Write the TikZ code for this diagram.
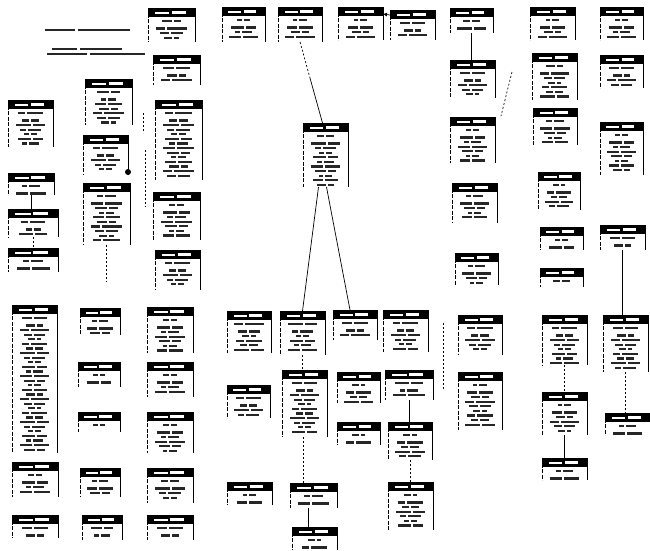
\documentclass[tikz,border=0pt]{standalone}
\usetikzlibrary{calc,arrows.meta}
\tikzset{
  tblbody/.style={draw=none, inner sep=0pt, outer sep=0pt},
  conn/.style={line width=0.7pt},
  dconn/.style={line width=0.7pt, dash pattern=on 2pt off 2pt},
  txtbar/.style={fill=black!85},
}
\newcommand\tbl[5]{%
 \node[tblbody, minimum width=#4pt, minimum height=#5pt, anchor=north west] (#1) at (#2,#3) {};
 \fill[black] (#2,#3) rectangle ++(#4,8.5);
 \pgfmathsetmacro\hw{#4*0.3}
 \fill[white] ({#2+#4*0.15},{#3+3.5}) rectangle ++(\hw,2.4);
 \fill[white] ({#2+#4*0.5},{#3+3}) rectangle ++(\hw,2.6);
 \draw[line width=0.6pt, dash pattern=on 4pt off 1.5pt] (#2,#3) -- ++(0,#5);
 \draw[line width=0.8pt] ({#2+#4},#3) -- ++(0,#5);
 \pgfmathtruncatemacro\nr{max(1,floor((#5-17)/4.6)+1)}
 \foreach \i in {1,...,\nr}{%
   \pgfmathsetmacro\bw{#4*(0.3+0.09*mod(\i*3+#3,5))}
   \pgfmathsetmacro\bx{#2+(#4-\bw)/2}
   \pgfmathsetmacro\by{#3+11.8+(\i>1)*3+(\i-1)*4.6}
   \pgfmathsetmacro\wa{\bw*(0.3+0.1*mod(\i+#2,3))}
   \pgfmathsetmacro\wb{\bw-\wa-2}
   \fill[txtbar] (\bx,\by) rectangle ++(\wa,2.1);
   \fill[txtbar] ({\bx+\wa+2},\by) rectangle ++(\wb,2.1);
 }
}
\begin{document}
\begin{tikzpicture}[x=1pt,y=-1pt]
\fill[white] (0,0) rectangle (650,550);
\useasboundingbox (0,0) rectangle (650,550);
% notes
\fill[txtbar] (45,29) rectangle ++(30,2); \fill[txtbar] (78,29) rectangle ++(52,2);
\fill[txtbar] (52,47.5) rectangle ++(25,2); \fill[txtbar] (80,47.5) rectangle ++(42,2);
\fill[txtbar] (47,52.5) rectangle ++(40,2); \fill[txtbar] (90,52.5) rectangle ++(55,2);
% column A
\tbl{a1}{8}{100}{45}{47}
\tbl{a2}{8}{173}{46}{22}
\tbl{a3}{8}{209}{50}{28}
\tbl{a4}{8}{248}{50}{24}
% column B
\tbl{b1}{85}{79}{47}{46}
\tbl{b2}{83}{135}{45}{40}
\tbl{b3}{83}{183}{47}{62}
% column C
\tbl{c1}{148}{8}{47}{34}
\tbl{c2}{153}{55}{47}{30}
\tbl{c3}{155}{100}{47}{80}
\tbl{c4}{153}{192}{47}{48}
\tbl{c5}{155}{250}{45}{40}
% top middle
\tbl{d1}{222}{7}{43}{35}
\tbl{d2}{278}{7}{44}{35}
\tbl{d3}{338}{7}{45}{33}
\tbl{d4}{390}{10}{45}{30}
\tbl{m}{303}{123}{45}{64}
% bottom middle
\tbl{e1}{227}{311}{44}{42}
\tbl{e2}{280}{311}{45}{44}
\tbl{e3}{333}{310}{44}{30}
\tbl{e4}{383}{310}{45}{42}
\tbl{e5}{227}{385}{43}{33}
\tbl{e6}{282}{370}{45}{67}
\tbl{e7}{337}{372}{43}{31}
\tbl{e8}{385}{370}{48}{30}
\tbl{e9}{337}{422}{43}{23}
\tbl{e10}{388}{422}{44}{38}
\tbl{e11}{227}{482}{45}{23}
\tbl{e12}{290}{483}{47}{25}
\tbl{e13}{292}{527}{45}{23}
\tbl{e14}{388}{482}{45}{48}
% bottom left
\tbl{f1}{12}{305}{45}{148}
\tbl{f2}{80}{308}{40}{27}
\tbl{f3}{147}{307}{46}{46}
\tbl{f4}{78}{362}{42}{25}
\tbl{f5}{147}{362}{46}{35}
\tbl{f6}{78}{412}{42}{20}
\tbl{f7}{147}{412}{46}{41}
\tbl{f8}{12}{462}{46}{35}
\tbl{f9}{80}{468}{40}{29}
\tbl{f10}{147}{468}{46}{35}
\tbl{f11}{12}{515}{46}{23}
\tbl{f12}{82}{515}{40}{25}
\tbl{f13}{147}{515}{46}{25}
% right
\tbl{g1}{450}{8}{43}{25}
\tbl{g2}{450}{60}{45}{38}
\tbl{g3}{450}{117}{45}{46}
\tbl{g4}{452}{183}{45}{40}
\tbl{g5}{455}{253}{43}{32}
\tbl{g6}{458}{315}{44}{40}
\tbl{g7}{458}{372}{44}{58}
\tbl{h1}{530}{7}{45}{33}
\tbl{h2}{600}{7}{43}{33}
\tbl{h3}{532}{53}{45}{47}
\tbl{h4}{600}{55}{43}{33}
\tbl{h5}{533}{108}{44}{37}
\tbl{h6}{600}{122}{43}{53}
\tbl{h7}{538}{172}{42}{38}
\tbl{h8}{540}{227}{43}{23}
\tbl{h9}{600}{225}{45}{25}
\tbl{h10}{540}{268}{43}{19}
\tbl{h11}{542}{315}{45}{50}
\tbl{h12}{603}{315}{45}{57}
\tbl{h13}{542}{392}{45}{43}
\tbl{h14}{605}{413}{45}{22}
\tbl{h15}{542}{458}{45}{22}
% black dot
\fill (128,172) circle (3);
% connectors
\draw[conn] (a2.south) -- (a2.south |- a3.north);
\draw[dconn] (a3.south) -- (a3.south |- a4.north);
\draw[conn] (g1.south) -- (g1.south |- g2.north);
\path ($(d2.south)!0.45!([xshift=-3pt]m.north)$) coordinate (dm);
\draw[dconn] (d2.south) -- (dm);
\draw[conn] (dm) -- ([xshift=-3pt]m.north);
\draw[conn,-{Latex[length=4pt,width=4pt]}] ([yshift=-5pt]d4.north west) -- ([yshift=-7pt]d3.north east);
\draw[conn] ([xshift=-7pt]m.south) -- (e2.north);
\draw[conn] ([xshift=1pt]m.south) -- ([xshift=-5pt]e3.north);
\draw[dconn] (e2.south) -- (e2.south |- e6.north);
\draw[dconn] ([xshift=-1pt]e6.south) -- ([xshift=-1pt]e6.south |- e12.north);
\draw[conn] ([xshift=-5pt]e12.south) -- ([xshift=-5pt]e12.south |- e13.north);
\draw[conn] (e8.south) -- (e8.south |- e10.north);
\draw[dconn] (e10.south) -- (e10.south |- e14.north);
\draw[conn] (h9.south) -- (h9.south |- h12.north);
\draw[dconn] (h11.south) -- (h11.south |- h13.north);
\draw[conn] (h13.south) -- (h13.south |- h15.north);
\draw[dconn] (h12.south) -- (h12.south |- h14.north);
% free dashed lines
\coordinate (fb) at (106,282);
\draw[dconn] (b3.south) -- (b3.south |- fb);
\coordinate (v1a) at (443,323); \coordinate (v1b) at (443,390);
\draw[dconn] (v1a) -- (v1b);
\coordinate (v2a) at (512,72); \coordinate (v2b) at (501,116);
\draw[dconn] (v2a) -- (v2b);
\coordinate (v3a) at (143,113); \coordinate (v3b) at (143,133);
\draw[dconn] (v3a) -- (v3b);
\coordinate (v4a) at (145,150); \coordinate (v4b) at (145,207);
\draw[dconn] (v4a) -- (v4b);
\end{tikzpicture}
\end{document}
